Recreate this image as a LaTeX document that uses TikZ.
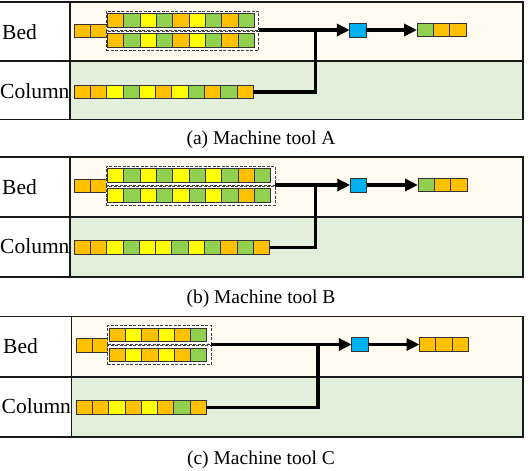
\documentclass[tikz,border=0pt]{standalone}
\usepackage{fontspec}
\setmainfont{Liberation Serif}
\usetikzlibrary{arrows.meta}

\definecolor{cO}{HTML}{FFC000}
\definecolor{cG}{HTML}{92D050}
\definecolor{cY}{HTML}{FFFF00}
\definecolor{cB}{HTML}{00B0F0}
\definecolor{bedbg}{HTML}{FFFBF0}
\definecolor{colbg}{HTML}{E2EFDA}

\tikzset{
	cell/.style = { draw = black!80, line width = 0.8pt, minimum width = 16.3pt, minimum height = 13.5pt, inner sep = 0pt, outer sep = 0pt },
	tool/.style = { cell, fill = cB, minimum width = 16.5pt, minimum height = 14pt },
	lot/.style = { draw = black!75, dash pattern = on 3pt off 1.5pt, line width = 1pt, fill = white, minimum height = 19pt, inner sep = 0pt, outer sep = 0pt, anchor = north west },
	flow/.style = { line width = 3.5pt, -{Triangle[length=13pt, width=12pt]} },
	link/.style = { line width = 3.5pt },
	frame/.style = { draw = black!90, line width = 1.8pt },
	rowlabel/.style = { anchor = west, inner sep = 0pt, font = \fontsize{21.5}{24}\selectfont },
	caption/.style = { inner sep = 0pt, font = \fontsize{19.5}{22}\selectfont }
}

\begin{document}
	\begin{tikzpicture}[x=1pt, y=-1pt]
		\useasboundingbox ( 0, 0 ) rectangle ( 528, 471 );

		% станок A: поля
		\fill [bedbg] ( 70, 2 ) rectangle ( 523, 61 );
		\fill [colbg] ( 70, 61 ) rectangle ( 523, 119.5 );
		\draw [frame] ( 0, 2 ) -- ( 523, 2 ) -- ( 523, 119.5 ) -- ( 0, 119.5 );
		\draw [frame] ( 0, 61 ) -- ( 523, 61 );
		\draw [frame] ( 70, 2 ) -- ( 70, 119.5 );
		\node [rowlabel] (abed) at ( 2, 32 )	{Bed};
		\node [rowlabel] (acol) at ( 0, 91.5 )	{Column};

		% станок A: станина
		\foreach \c [count=\i] in {O,O}
			\node [cell, fill=c\c] (ain\i) at ( {65.85+16.3*\i}, 31 ) {};
		\node [lot, minimum width=152.7pt] (aup) at ( 106, 11 ) {};
		\node [lot, minimum width=152.7pt] (alo) at ( 106, 31 ) {};
		\foreach \c [count=\i] in {O,G,Y,G,O,Y,G,O,G}
			\node [cell, fill=c\c] (au\i) at ( {99.35+16.3*\i}, 20.5 ) {};
		\foreach \c [count=\i] in {O,G,Y,G,O,Y,G,O,G}
			\node [cell, fill=c\c] (al\i) at ( {99.35+16.3*\i}, 40.5 ) {};

		% станок A: колонна
		\foreach \c [count=\i] in {O,O,Y,G,Y,O,Y,G,O,G,O}
			\node [cell, fill=c\c] (ac\i) at ( {65.85+16.3*\i}, 92 ) {};

		% станок A: сборка
		\node [tool] (atool) at ( 358, 30 ) {};
		\foreach \c [count=\i] in {G,O,O}
			\node [cell, fill=c\c] (aq\i) at ( {408.85+16.3*\i}, 30 ) {};
		\coordinate (aj) at ( 315.5, 30 );
		\draw [flow] (aup.south east) -- (atool);
		\draw [flow] (atool) -- (aq1);
		\draw [link] (ac11.east) -| (aj);
		\node [caption] (acap) at ( 261, 140 )	{(a) Machine tool A};

		% станок B: поля
		\fill [bedbg] ( 70, 157 ) rectangle ( 523, 217 );
		\fill [colbg] ( 70, 217 ) rectangle ( 523, 277 );
		\draw [frame] ( 0, 157 ) -- ( 523, 157 ) -- ( 523, 277 ) -- ( 0, 277 );
		\draw [frame] ( 0, 217 ) -- ( 523, 217 );
		\draw [frame] ( 70, 157 ) -- ( 70, 277 );
		\node [rowlabel] (bbed) at ( 2, 187 )	{Bed};
		\node [rowlabel] (bcol) at ( 0, 246.5 )	{Column};

		% станок B: станина
		\foreach \c [count=\i] in {O,O}
			\node [cell, fill=c\c] (bin\i) at ( {65.85+16.3*\i}, 186 ) {};
		\node [lot, minimum width=169pt] (bup) at ( 106, 166 ) {};
		\node [lot, minimum width=169pt] (blo) at ( 106, 186 ) {};
		\foreach \c [count=\i] in {Y,G,Y,G,Y,G,Y,G,O,G}
			\node [cell, fill=c\c] (bu\i) at ( {99.35+16.3*\i}, 175.5 ) {};
		\foreach \c [count=\i] in {Y,G,Y,G,Y,G,Y,G,O,G}
			\node [cell, fill=c\c] (bl\i) at ( {99.35+16.3*\i}, 195.5 ) {};

		% станок B: колонна
		\foreach \c [count=\i] in {O,O,Y,G,Y,Y,G,Y,G,O,G,O}
			\node [cell, fill=c\c] (bc\i) at ( {65.85+16.3*\i}, 247.5 ) {};

		% станок B: сборка
		\node [tool] (btool) at ( 358.5, 185 ) {};
		\foreach \c [count=\i] in {G,O,O}
			\node [cell, fill=c\c] (bq\i) at ( {409.85+16.3*\i}, 185 ) {};
		\coordinate (bj) at ( 315.5, 185 );
		\draw [flow] (bup.south east) -- (btool);
		\draw [flow] (btool) -- (bq1);
		\draw [link] (bc12.east) -| (bj);
		\node [caption] (bcap) at ( 261, 299 )	{(b) Machine tool B};

		% станок C: поля
		\fill [bedbg] ( 71.5, 316.5 ) rectangle ( 523, 377 );
		\fill [colbg] ( 71.5, 377 ) rectangle ( 523, 437 );
		\draw [frame] ( 0, 316.5 ) -- ( 523, 316.5 ) -- ( 523, 437 ) -- ( 0, 437 );
		\draw [frame] ( 0, 377 ) -- ( 523, 377 );
		\draw [frame] ( 71.5, 316.5 ) -- ( 71.5, 437 );
		\node [rowlabel] (cbed) at ( 3, 346.5 )	{Bed};
		\node [rowlabel] (ccol) at ( 1.5, 406 )	{Column};

		% станок C: станина
		\foreach \c [count=\i] in {O,O}
			\node [cell, fill=c\c] (cin\i) at ( {67.85+16.3*\i}, 345.5 ) {};
		\node [lot, minimum width=103.8pt] (cup) at ( 107.5, 325.5 ) {};
		\node [lot, minimum width=103.8pt] (clo) at ( 107.5, 345.5 ) {};
		\foreach \c [count=\i] in {O,Y,O,Y,O,G}
			\node [cell, fill=c\c] (cu\i) at ( {100.85+16.3*\i}, 335 ) {};
		\foreach \c [count=\i] in {O,Y,O,Y,O,G}
			\node [cell, fill=c\c] (cl\i) at ( {100.85+16.3*\i}, 355 ) {};

		% станок C: колонна
		\foreach \c [count=\i] in {O,O,Y,O,Y,O,G,O}
			\node [cell, fill=c\c] (cc\i) at ( {67.85+16.3*\i}, 407.5 ) {};

		% станок C: сборка
		\node [tool] (ctool) at ( 360, 344.5 ) {};
		\foreach \c [count=\i] in {O,O,O}
			\node [cell, fill=c\c] (cq\i) at ( {411.35+16.3*\i}, 344.5 ) {};
		\coordinate (cj) at ( 318, 344.5 );
		\draw [flow] (cup.south east) -- (ctool);
		\draw [flow] (ctool) -- (cq1);
		\draw [link] (cc8.east) -| (cj);
		\node [caption] (ccap) at ( 261, 460 )	{(c) Machine tool C};
	\end{tikzpicture}
\end{document}
